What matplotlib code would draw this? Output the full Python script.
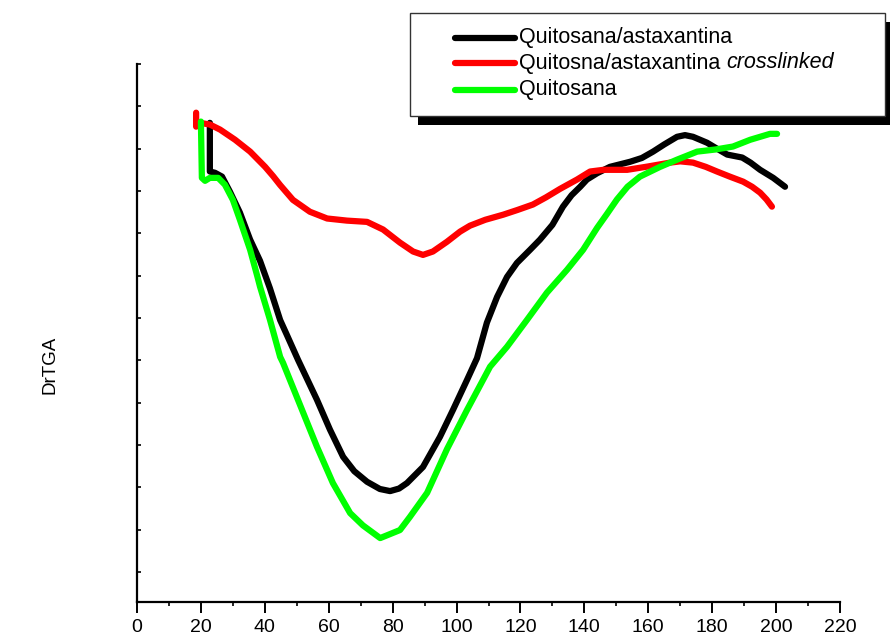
"""DrTGA curves for chitosan / astaxanthin samples - saves out.png."""

import matplotlib
matplotlib.use("Agg")
import matplotlib.pyplot as plt
from matplotlib.lines import Line2D
from matplotlib.patches import Rectangle
from matplotlib.text import Annotation
from matplotlib.ticker import MultipleLocator, NullFormatter

# Quitosana/astaxantina (black)
black_x = [22.8, 22.8, 24.4, 26.6, 29.1, 32.2, 35.4, 38.5, 41.6, 44.8, 46.9, 50.4,
           56.3, 60.4, 64.5, 68.0, 72.0, 76.0, 79.2, 82.0, 84.5, 89.5, 94.8, 98.9,
           103.3, 106.4, 109.5, 112.7, 115.8, 118.9, 123.0, 126.1, 130.0, 133.3,
           136.0, 138.7, 140.8, 144.0, 148.0, 154.3, 158.0, 161.5, 165.0, 169.0,
           171.5, 174.0, 178.4, 181.5, 184.7, 189.4, 192.0, 195.0, 199.1, 202.8]
black_y = [-1.39, -2.54, -2.57, -2.66, -3.02, -3.51, -4.15, -4.65, -5.30, -6.05, -6.40, -6.99,
           -7.93, -8.64, -9.28, -9.62, -9.87, -10.04, -10.09, -10.03, -9.90, -9.52, -8.81, -8.17,
           -7.46, -6.95, -6.11, -5.50, -5.03, -4.70, -4.39, -4.15, -3.80, -3.37,
           -3.10, -2.90, -2.73, -2.58, -2.43, -2.31, -2.22, -2.07, -1.90, -1.72,
           -1.68, -1.72, -1.86, -2.00, -2.14, -2.21, -2.33, -2.50, -2.69, -2.90]

# Quitosna/astaxantina crosslinked (red)
red_x = [18.5, 18.5, 19.7, 22.8, 26.0, 30.7, 35.4, 40.1, 42.6, 44.8, 48.8, 54.1,
         59.5, 65.7, 72.0, 77.0, 82.3, 86.4, 89.5, 92.6, 97.0, 101.1, 104.2, 109.0,
         114.6, 119.0, 123.9, 128.0, 132.4, 137.7, 141.8, 146.0, 153.4, 160.0,
         166.8, 170.0, 174.0, 178.0, 181.5, 185.5, 189.7, 192.5, 195.0, 197.0, 198.7]
red_y = [-1.15, -1.48, -1.39, -1.43, -1.55, -1.79, -2.07, -2.43, -2.65, -2.86, -3.21, -3.49,
         -3.65, -3.70, -3.73, -3.91, -4.22, -4.43, -4.51, -4.43, -4.20, -3.96, -3.82, -3.68,
         -3.56, -3.45, -3.32, -3.15, -2.95, -2.73, -2.54, -2.50, -2.50, -2.42,
         -2.33, -2.30, -2.33, -2.43, -2.54, -2.66, -2.78, -2.90, -3.04, -3.20, -3.37]

# Quitosana (green)
green_x = [20.0, 20.3, 21.3, 22.8, 25.4, 27.5, 30.0, 32.2, 35.4, 37.6, 38.5, 41.6,
           44.8, 45.7, 51.0, 56.3, 61.3, 66.7, 70.7, 76.1, 82.3, 85.4, 90.8, 97.0,
           103.3, 110.5, 115.8, 122.1, 128.3, 134.6, 139.6, 144.0, 147.0, 150.2,
           153.5, 157.4, 163.7, 169.0, 175.3, 181.0, 186.5, 191.9, 195.0, 198.1, 200.3]
green_y = [-1.36, -2.69, -2.76, -2.69, -2.69, -2.85, -3.21, -3.68, -4.39, -5.00, -5.26, -6.04,
           -6.92, -7.06, -8.05, -9.04, -9.90, -10.61, -10.90, -11.20, -11.01, -10.70, -10.13, -9.10,
           -8.17, -7.15, -6.68, -6.04, -5.40, -4.86, -4.39, -3.87, -3.55, -3.20,
           -2.90, -2.66, -2.43, -2.26, -2.07, -2.02, -1.95, -1.79, -1.72, -1.65, -1.65]

labels = ["Quitosana/astaxantina", "Quitosna/astaxantina ", "Quitosana"]
colors = ["#000000", "#ff0000", "#00ff00"]

FONT = ["Liberation Sans", "DejaVu Sans"]


def draw_legend(fig):
    """Draw the framed legend with its black drop shadow in figure coords."""
    W, H = fig.get_size_inches() * fig.dpi

    def fx(px):
        return px / W

    def fy(py):
        return 1 - py / H

    shadow = Rectangle((fx(418), fy(125)), fx(893) - fx(418), fy(22) - fy(125),
                       transform=fig.transFigure, facecolor="black",
                       edgecolor="none", zorder=5)
    frame = Rectangle((fx(410), fy(116)), fx(885) - fx(410), fy(13) - fy(116),
                      transform=fig.transFigure, facecolor="white",
                      edgecolor="#333333", linewidth=1.0, zorder=6)
    fig.patches.extend([shadow, frame])

    rows = [38, 63, 90]
    for label, color, py in zip(labels, colors, rows):
        fig.lines.append(Line2D([fx(455), fx(515)], [fy(py), fy(py)],
                                transform=fig.transFigure, color=color,
                                linewidth=4.5, solid_capstyle="round", zorder=7))
        t = fig.text(fx(519), fy(py), label, fontsize=15.5, family=FONT,
                     ha="left", va="center", zorder=7)
        if color == "#ff0000":
            # italic tail of the label, placed right after the plain part
            tail = Annotation("crosslinked", xy=(1, 0.5), xycoords=t,
                              fontsize=15.5, family=FONT, style="italic",
                              ha="left", va="center", annotation_clip=False)
            tail.set_zorder(7)
            fig.add_artist(tail)


def plot_drtga():
    fig = plt.figure(figsize=(8.9, 6.39), dpi=100)
    ax = fig.add_axes([137 / 890, 1 - 602 / 639, 703 / 890, 538 / 639])

    for xs, ys, color in [(black_x, black_y, colors[0]),
                          (red_x, red_y, colors[1]),
                          (green_x, green_y, colors[2])]:
        ax.plot(xs, ys, color=color, linewidth=4.5,
                solid_capstyle="round", solid_joinstyle="round")

    ax.set_xlim(0, 220)
    ax.set_ylim(-12.71, 0)

    for side in ["top", "right"]:
        ax.spines[side].set_visible(False)
    for side in ["left", "bottom"]:
        ax.spines[side].set_linewidth(1.6)

    ax.xaxis.set_major_locator(MultipleLocator(20))
    ax.xaxis.set_minor_locator(MultipleLocator(10))
    ax.tick_params(axis="x", which="major", direction="out", length=8,
                   width=1.4, labelsize=14, pad=4)
    ax.tick_params(axis="x", which="minor", direction="out", length=3, width=1.2)
    for lbl in ax.get_xticklabels():
        lbl.set_family(FONT)

    ax.yaxis.set_major_locator(MultipleLocator(1))
    ax.yaxis.set_major_formatter(NullFormatter())
    ax.tick_params(axis="y", which="major", direction="in", length=3, width=1.2)

    ax.set_ylabel("DrTGA", fontsize=13.5, family=FONT)
    ax.yaxis.set_label_coords((58 - 137) / 703, (602 - 365) / 538)

    draw_legend(fig)

    fig.savefig("out.png", dpi=100)
    plt.close(fig)


if __name__ == "__main__":
    plot_drtga()
